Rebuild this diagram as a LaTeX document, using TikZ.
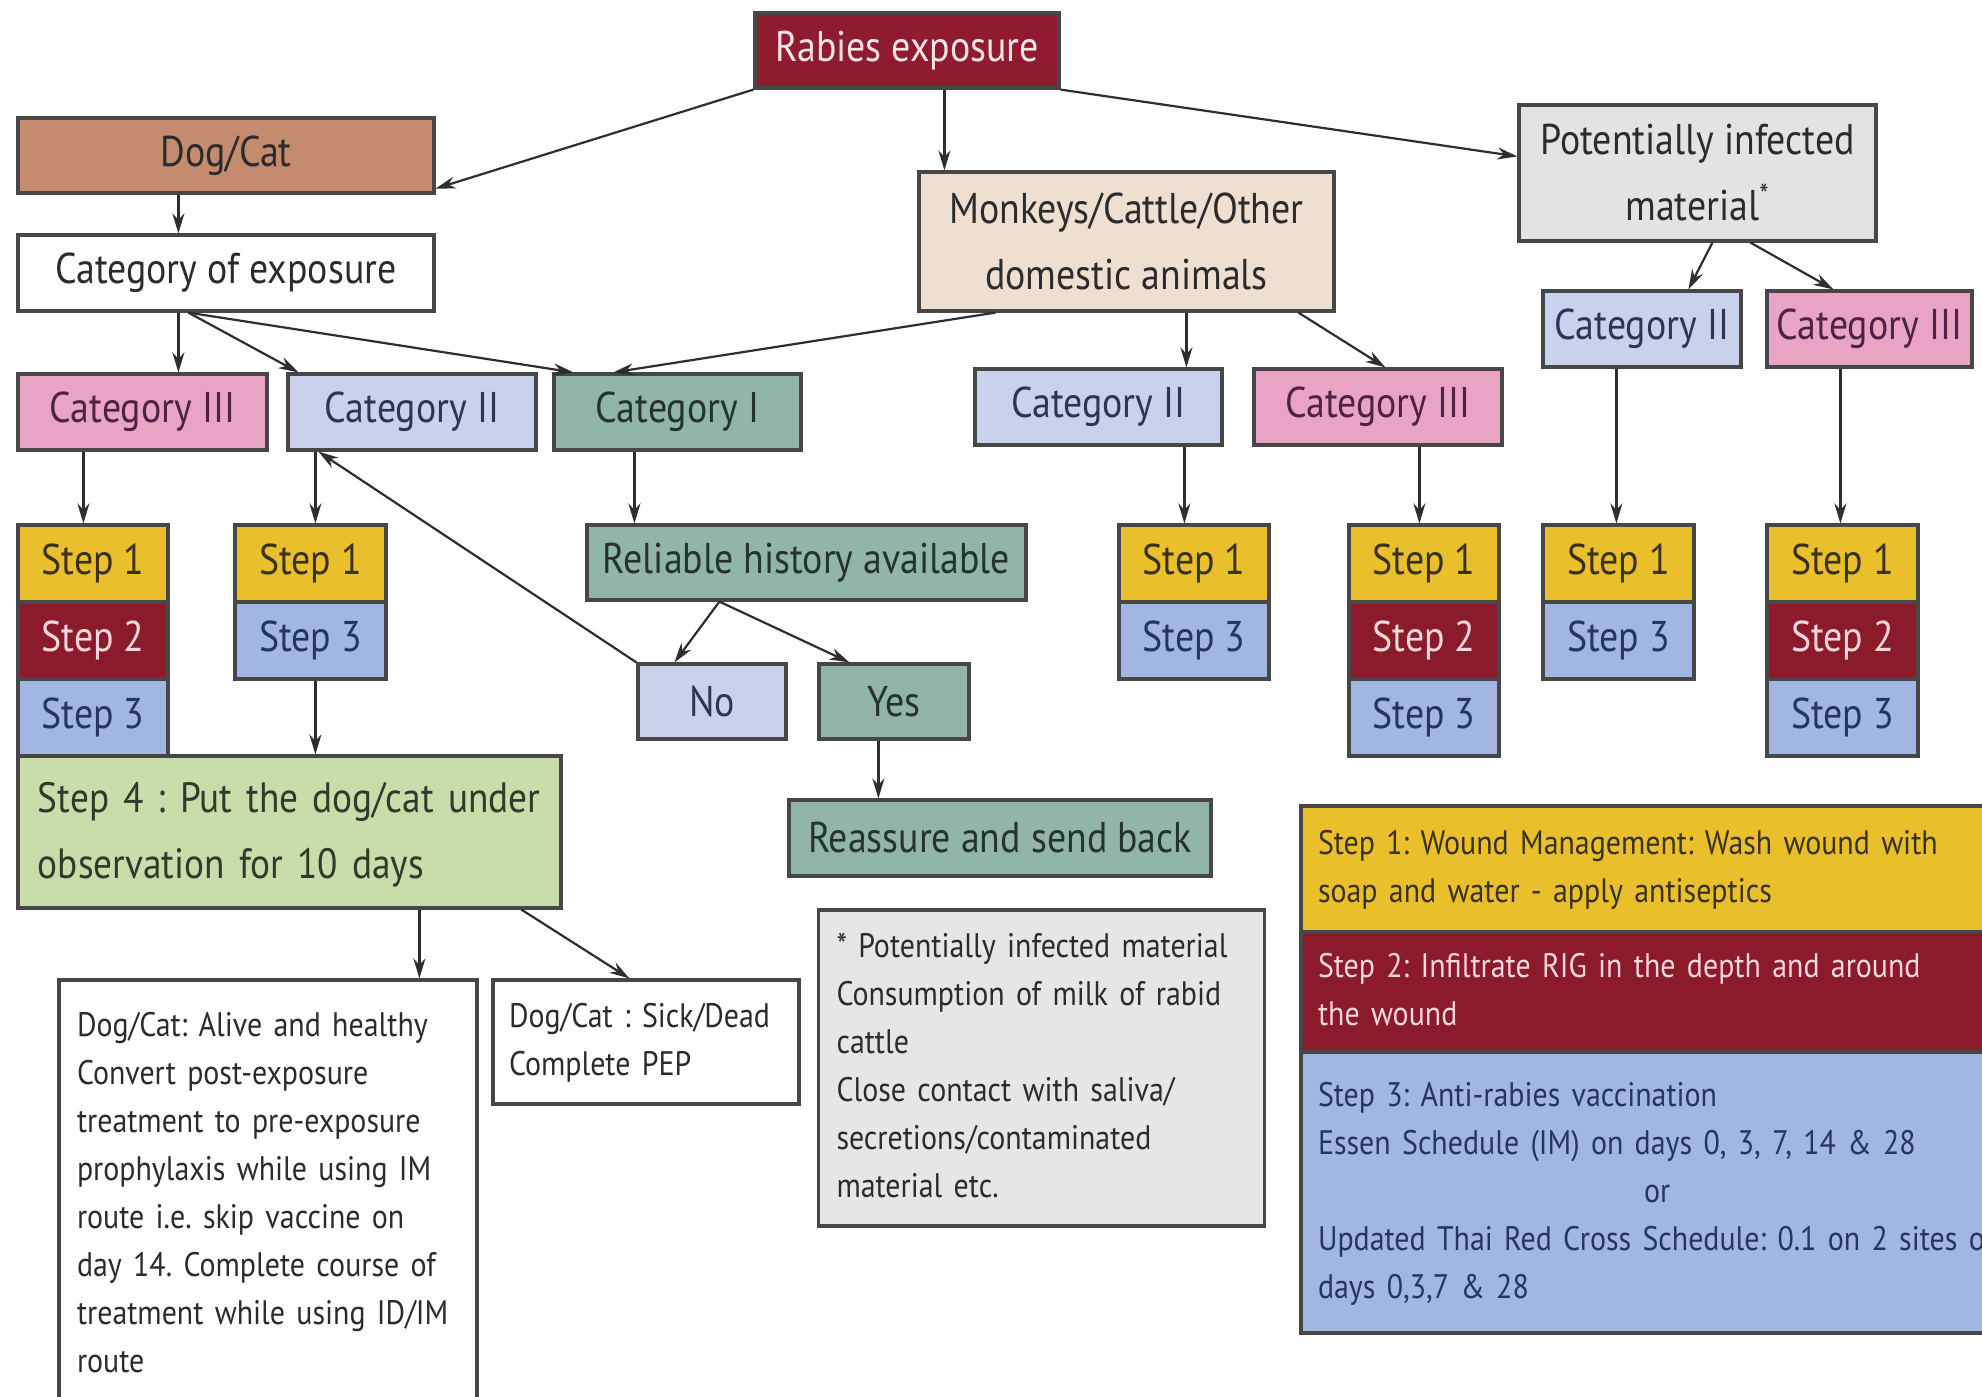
\documentclass[tikz,border=0pt]{standalone}
\usepackage{fontspec}
\setmainfont{PT Sans}[FakeStretch=0.88]
\usetikzlibrary{arrows.meta,calc}

% palette
\definecolor{edge}{HTML}{474747}
\definecolor{wire}{HTML}{2E2E2E}
\definecolor{ink}{HTML}{2B2B2B}
\definecolor{rabfill}{HTML}{8E1B2E}
\definecolor{rabtext}{HTML}{F4E4E6}
\definecolor{dogfill}{HTML}{C48B6E}
\definecolor{monfill}{HTML}{EEDFD1}
\definecolor{potfill}{HTML}{E3E3E3}
\definecolor{catthree}{HTML}{E9A4C4}
\definecolor{catthreetext}{HTML}{4E2244}
\definecolor{cattwo}{HTML}{C9D1EC}
\definecolor{cattwotext}{HTML}{2C3554}
\definecolor{catone}{HTML}{92B5A9}
\definecolor{catonetext}{HTML}{25332E}
\definecolor{stepone}{HTML}{E9BF2B}
\definecolor{steponetext}{HTML}{3A311B}
\definecolor{steptwo}{HTML}{8B1B2B}
\definecolor{steptwotext}{HTML}{F6D7DD}
\definecolor{stepthree}{HTML}{A1B6E0}
\definecolor{stepthreetext}{HTML}{26345F}
\definecolor{stepfour}{HTML}{C9DDAA}
\definecolor{stepfourtext}{HTML}{2E3A2A}
\definecolor{notefill}{HTML}{E6E6E6}

% type sizes
\newcommand\fontbig{\fontsize{21.5}{33}\selectfont}
\newcommand\fontfour{\fontsize{21.2}{33}\selectfont}
\newcommand\fontnote{\fontsize{17}{24}\selectfont}
\newcommand\textlines[1]{\begin{tabular}{@{}l@{}}#1\end{tabular}}

% box from its corners: name, x1, y1, x2, y2, style, text
\newcommand\boxat[7]{%
  \node[#6, minimum width={0.5*(#4-#2)}, minimum height={0.5*(#5-#3)}]
    (#1) at ({(#2+#4)/2},{(#3+#5)/2}) {#7};}

\tikzset{
  box/.style={draw=edge, line width=1.6pt, inner sep=0pt, font=\fontbig, text=ink},
  catI/.style={box, fill=catone, text=catonetext},
  catII/.style={box, fill=cattwo, text=cattwotext},
  catIII/.style={box, fill=catthree, text=catthreetext},
  sone/.style={box, fill=stepone, text=steponetext},
  stwo/.style={box, fill=steptwo, text=steptwotext},
  sthree/.style={box, fill=stepthree, text=stepthreetext},
  note/.style={box, font=\fontnote, align=left, inner xsep=9pt},
  conn/.style={draw=wire, line width=1.1pt, -{Stealth[length=10pt,width=6pt]}},
}

\begin{document}
\frenchspacing
\begin{tikzpicture}[x=0.5pt,y=-0.5pt]
\useasboundingbox (0,0) rectangle (1982,1397);
\fill[white] (0,0) rectangle (1982,1397);

% top level
\boxat{rab}{755}{13}{1059}{88}{box,fill=rabfill,text=rabtext}{Rabies exposure}
\boxat{dog}{18}{118}{434}{193}{box,fill=dogfill}{Dog/Cat}
\boxat{cexp}{18}{235}{434}{311}{box,fill=white}{Category of exposure}
\boxat{mon}{919}{172}{1334}{311}{box,fill=monfill,align=center}{Monkeys/Cattle/Other\\domestic animals}
\boxat{pot}{1519}{105}{1876}{241}{box,fill=potfill,align=center}{Potentially infected\\material\textsuperscript{*}}

% categories
\boxat{cIIIa}{18}{374}{267}{450}{catIII}{Category III}
\boxat{cIIa}{288}{374}{536}{450}{catII}{Category II}
\boxat{cIa}{554}{374}{801}{450}{catI}{Category I}
\boxat{cIIb}{975}{369}{1222}{445}{catII}{Category II}
\boxat{cIIIb}{1254}{369}{1502}{445}{catIII}{Category III}
\boxat{cIIc}{1543}{291}{1741}{367}{catII}{Category II}
\boxat{cIIIc}{1767}{291}{1972}{367}{catIII}{Category III}

% step stacks
\boxat{a1}{18}{525}{168}{602}{sone}{Step 1}
\boxat{a2}{18}{602}{168}{679}{stwo}{Step 2}
\boxat{a3}{18}{679}{168}{756}{sthree}{Step 3}
\boxat{b1}{235}{525}{386}{602}{sone}{Step 1}
\boxat{b3}{235}{602}{386}{679}{sthree}{Step 3}
\boxat{c1}{1119}{525}{1269}{602}{sone}{Step 1}
\boxat{c3}{1119}{602}{1269}{679}{sthree}{Step 3}
\boxat{d1}{1349}{525}{1499}{602}{sone}{Step 1}
\boxat{d2}{1349}{602}{1499}{679}{stwo}{Step 2}
\boxat{d3}{1349}{679}{1499}{756}{sthree}{Step 3}
\boxat{e1}{1543}{525}{1694}{602}{sone}{Step 1}
\boxat{e3}{1543}{602}{1694}{679}{sthree}{Step 3}
\boxat{f1}{1767}{525}{1918}{602}{sone}{Step 1}
\boxat{f2}{1767}{602}{1918}{679}{stwo}{Step 2}
\boxat{f3}{1767}{679}{1918}{756}{sthree}{Step 3}

% category I branch
\boxat{rel}{587}{525}{1026}{600}{catI}{Reliable history available}
\boxat{no}{638}{664}{786}{739}{catII}{No}
\boxat{yes}{819}{664}{969}{739}{catI}{Yes}
\boxat{reas}{789}{800}{1211}{876}{catI}{Reassure and send back}

% observation and outcomes
\boxat{s4}{18}{756}{561}{908}{box,fill=stepfour,text=stepfourtext,font=\fontfour,align=left,inner xsep=10pt,text width=251.5pt}{\textlines{Step 4 : Put the dog/cat under\\observation for 10 days}}
\boxat{alive}{59}{980}{477}{1410}{note,fill=white,text width=191pt}{\textlines{Dog/Cat: Alive and healthy\\Convert post-exposure\\treatment to pre-exposure\\prophylaxis while using IM\\route i.e. skip vaccine on\\day 14. Complete course of\\treatment while using ID/IM\\route}}
\boxat{sick}{493}{980}{799}{1104}{note,fill=white,inner xsep=8pt,text width=137pt}{\textlines{Dog/Cat : Sick/Dead\\Complete PEP}}
\boxat{foot}{819}{910}{1264}{1226}{note,fill=notefill,text width=205pt}{\textlines{* Potentially infected material\\Consumption of milk of rabid\\cattle\\Close contact with saliva/\\secretions/contaminated\\material etc.}}

% key to the steps
\boxat{kone}{1301}{806}{1995}{932}{note,fill=stepone,text=steponetext,inner xsep=8.5pt,text width=330pt}{\textlines{Step 1: Wound Management: Wash wound with\\soap and water - apply antiseptics}}
\boxat{ktwo}{1301}{932}{1995}{1052}{note,fill=steptwo,text=steptwotext,inner xsep=8.5pt,text width=330pt}{\textlines{Step 2: Infiltrate RIG in the depth and around\\the wound}}
\boxat{kthree}{1301}{1052}{1995}{1333}{note,fill=stepthree,text=stepthreetext,inner xsep=8.5pt,text width=330pt}{\textlines{Step 3: Anti-rabies vaccination\\Essen Schedule (IM) on days 0, 3, 7, 14 \& 28\\\hspace*{163pt}or\\Updated Thai Red Cross Schedule: 0.1 on 2 sites on\\days 0,3,7 \& 28}}

% connectors
\draw[conn] (rab.south west) -- ($(dog.south east)+(0,-6)$);
\draw[conn] ($(rab.south west)+(191,0)$) -- ($(mon.north west)+(27,0)$);
\draw[conn] (rab.south east) -- ($(pot.north west)+(0,53)$);
\draw[conn] ($(dog.south west)+(162,0)$) -- ($(cexp.north west)+(162,0)$);
\draw[conn] ($(cexp.south west)+(162,0)$) -- ($(cIIIa.north west)+(162,0)$);
\draw[conn] ($(cexp.south west)+(172,0)$) -- ($(cIIa.north west)+(12,0)$);
\draw[conn] ($(cexp.south west)+(172,0)$) -- ($(cIa.north west)+(21,0)$);
\draw[conn] ($(mon.south west)+(78,0)$) -- ($(cIa.north west)+(61,0)$);
\draw[conn] ($(mon.south west)+(269,0)$) -- ($(cIIb.north west)+(213,0)$);
\draw[conn] ($(mon.south west)+(381,0)$) -- ($(cIIIb.north west)+(133,0)$);
\draw[conn] ($(pot.south west)+(195,0)$) -- ($(cIIc.north west)+(147,0)$);
\draw[conn] ($(pot.south west)+(233,0)$) -- ($(cIIIc.north west)+(68,0)$);
\draw[conn] ($(cIIIa.south west)+(67,0)$) -- ($(a1.north west)+(67,0)$);
\draw[conn] ($(cIIa.south west)+(29,0)$) -- ($(b1.north west)+(82,0)$);
\draw[conn] ($(cIa.south west)+(82,0)$) -- ($(rel.north west)+(49,0)$);
\draw[conn] ($(rel.south west)+(134,0)$) -- ($(no.north west)+(38,0)$);
\draw[conn] ($(rel.south west)+(134,0)$) -- ($(yes.north west)+(32,0)$);
\draw[conn] (no.north west) -- ($(cIIa.south west)+(32,0)$);
\draw[conn] ($(yes.south west)+(61,0)$) -- ($(reas.north west)+(91,0)$);
\draw[conn] ($(b3.south west)+(82,0)$) -- ($(s4.north west)+(299,0)$);
\draw[conn] ($(s4.south west)+(403,0)$) -- ($(alive.north west)+(362,0)$);
\draw[conn] ($(s4.south west)+(505,0)$) -- ($(sick.north west)+(138,0)$);
\draw[conn] ($(cIIb.south west)+(211,0)$) -- ($(c1.north west)+(67,0)$);
\draw[conn] ($(cIIIb.south west)+(167,0)$) -- ($(d1.north west)+(72,0)$);
\draw[conn] ($(cIIc.south west)+(75,0)$) -- ($(e1.north west)+(75,0)$);
\draw[conn] ($(cIIIc.south west)+(75,0)$) -- ($(f1.north west)+(75,0)$);
\end{tikzpicture}
\end{document}
